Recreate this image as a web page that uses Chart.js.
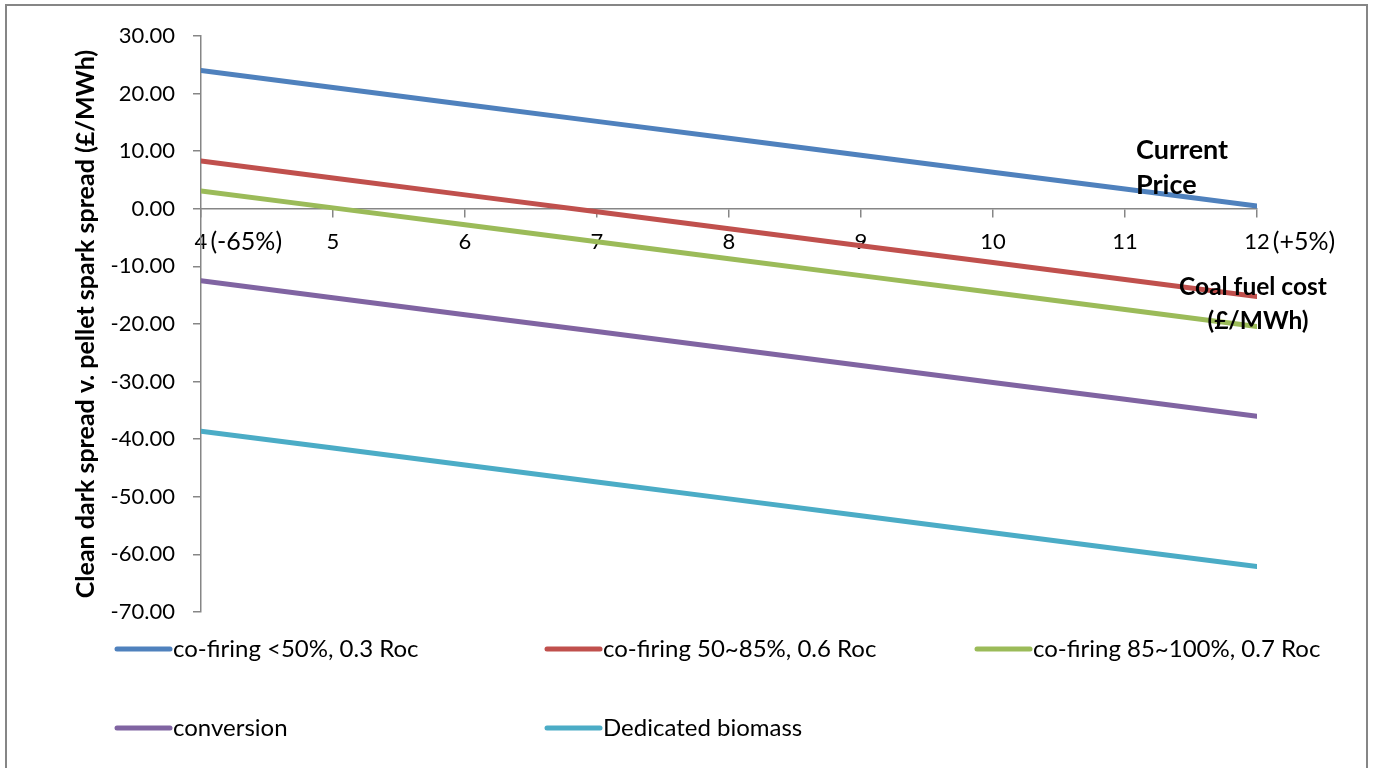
<!DOCTYPE html>
<html>
<head>
<meta charset="utf-8">
<title>Clean dark spread v. pellet spark spread</title>
<script src="https://cdn.jsdelivr.net/npm/chart.js@4/dist/chart.umd.min.js"></script>
<style>
  html, body { margin: 0; padding: 0; background: #ffffff; }
  #wrap { position: relative; width: 1373px; height: 768px; }
  canvas { display: block; }
</style>
</head>
<body>
<div id="wrap"><canvas id="chart" width="1373" height="768"></canvas></div>
<script>
// Coal fuel cost (£/MWh) along the horizontal axis
const coalFuelCost = [4, 5, 6, 7, 8, 9, 10, 11, 12];

// Clean dark spread v. pellet spark spread (£/MWh) for each plant type
const coFiringUnder50 = [24.00, 21.06, 18.12, 15.18, 12.24, 9.30, 6.36, 3.42, 0.48];
const coFiring50to85 = [8.30, 5.36, 2.42, -0.52, -3.46, -6.40, -9.34, -12.28, -15.22];
const coFiring85to100 = [3.10, 0.16, -2.78, -5.72, -8.66, -11.60, -14.54, -17.48, -20.42];
const conversion = [-12.50, -15.44, -18.38, -21.32, -24.26, -27.20, -30.14, -33.08, -36.02];
const dedicatedBiomass = [-38.60, -41.54, -44.48, -47.42, -50.36, -53.30, -56.24, -59.18, -62.12];

const seriesNames = [
  'co-firing <50%, 0.3 Roc',
  'co-firing 50~85%, 0.6 Roc',
  'co-firing 85~100%, 0.7 Roc',
  'conversion',
  'Dedicated biomass'
];
const seriesColors = ['#4f81bd', '#c0504d', '#9bbb59', '#8064a2', '#4bacc6'];

// Extra notes beside the first and last x tick labels
const xEndNotes = { 4: '(-65%)', 12: '(+5%)' };
const yTitle = 'Clean dark spread v. pellet spark spread (£/MWh)';

const FONT = 'Lato, "Open Sans", sans-serif';
const AXIS_GREY = '#868686';
const X_TICK_SIZE = 22;

const seriesValues = [coFiringUnder50, coFiring50to85, coFiring85to100, conversion, dedicatedBiomass];

const datasets = seriesValues.map((vals, i) => ({
  label: seriesNames[i],
  data: coalFuelCost.map((x, j) => ({ x: x, y: vals[j] })),
  borderColor: seriesColors[i],
  backgroundColor: seriesColors[i],
  borderWidth: 5,
  borderCapStyle: 'round',
  borderJoinStyle: 'round',
  pointRadius: 0,
  pointHoverRadius: 0,
  tension: 0,
  fill: false
}));

// Frame, annotations, tick notes and the two-row legend
const decorations = {
  id: 'decorations',
  afterDraw(chart) {
    const ctx = chart.ctx;
    const xs = chart.scales.x;
    const ys = chart.scales.y;
    ctx.save();

    // outer frame
    ctx.strokeStyle = AXIS_GREY;
    ctx.lineWidth = 2;
    ctx.beginPath();
    ctx.moveTo(6, 800);
    ctx.lineTo(6, 5);
    ctx.lineTo(1367, 5);
    ctx.lineTo(1367, 800);
    ctx.stroke();

    // notes beside tick labels 4 and 12
    ctx.fillStyle = '#000';
    ctx.textAlign = 'left';
    ctx.textBaseline = 'middle';
    const labelY = ys.getPixelForValue(0) + 34;
    Object.keys(xEndNotes).forEach(k => {
      const v = Number(k);
      ctx.font = X_TICK_SIZE + 'px ' + FONT;
      const w = ctx.measureText(String(v)).width;
      ctx.font = '25px ' + FONT;
      ctx.fillText(xEndNotes[k], xs.getPixelForValue(v) + w / 2 + 3, labelY - 1);
    });

    // annotations
    ctx.font = 'bold 27px ' + FONT;
    ctx.textAlign = 'left';
    ctx.fillText('Current', 1136, 150);
    ctx.fillText('Price', 1136, 185);
    ctx.font = 'bold 24.5px ' + FONT;
    ctx.textAlign = 'center';
    ctx.fillText('Coal fuel cost', 1253, 287);
    ctx.fillText('(£/MWh)', 1258, 321);

    // legend
    const cols = [115, 545, 975];
    const rows = [649, 728];
    ctx.font = '24px ' + FONT;
    ctx.textAlign = 'left';
    chart.data.datasets.forEach((ds, i) => {
      const x0 = cols[i % 3];
      const y0 = rows[Math.floor(i / 3)];
      ctx.strokeStyle = ds.borderColor;
      ctx.lineWidth = 5;
      ctx.lineCap = 'round';
      ctx.beginPath();
      ctx.moveTo(x0 + 2, y0);
      ctx.lineTo(x0 + 55, y0);
      ctx.stroke();
      ctx.fillStyle = '#000';
      ctx.fillText(ds.label, x0 + 58, y0);
    });

    ctx.restore();
  }
};

new Chart(document.getElementById('chart'), {
  type: 'line',
  data: { datasets: datasets },
  options: {
    responsive: false,
    animation: false,
    events: [],
    layout: { padding: { left: 0, top: 36, right: 116, bottom: 156 } },
    plugins: {
      legend: { display: false },
      tooltip: { enabled: false }
    },
    scales: {
      x: {
        type: 'linear',
        position: { y: 0 },
        min: 4,
        max: 12,
        afterFit(scale) { scale.height = 0; },
        ticks: {
          stepSize: 1,
          color: '#000',
          font: { family: FONT, size: X_TICK_SIZE },
          padding: 12,
          maxRotation: 0,
          autoSkip: false,
          callback: v => String(v)
        },
        grid: {
          display: true,
          drawOnChartArea: false,
          drawTicks: true,
          tickLength: 8,
          color: AXIS_GREY,
          lineWidth: 1.5
        },
        border: { display: true, color: AXIS_GREY, width: 1.5 }
      },
      y: {
        type: 'linear',
        min: -70,
        max: 30,
        afterFit(scale) { scale.width = 201; },
        ticks: {
          stepSize: 10,
          color: '#000',
          font: { family: FONT, size: 22 },
          padding: 18,
          callback: v => v.toFixed(2)
        },
        grid: {
          display: true,
          drawOnChartArea: false,
          drawTicks: true,
          tickLength: 8,
          color: AXIS_GREY,
          lineWidth: 1.5
        },
        border: { display: true, color: AXIS_GREY, width: 1.5 },
        title: {
          display: true,
          text: yTitle,
          color: '#000',
          font: { family: FONT, size: 25, weight: 'bold' },
          padding: { top: 71, bottom: 0 }
        }
      }
    }
  },
  plugins: [decorations]
});
</script>
</body>
</html>
